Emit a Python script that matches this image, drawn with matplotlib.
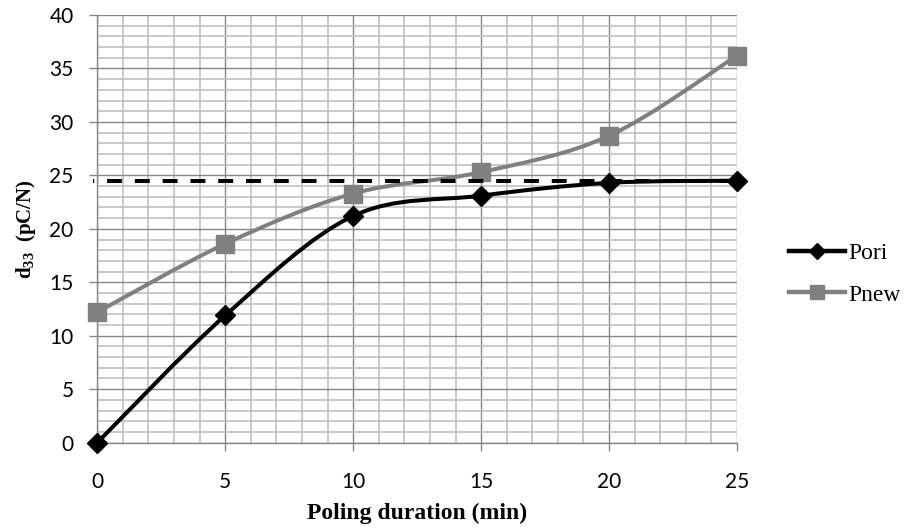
import matplotlib
matplotlib.use('Agg')
import matplotlib.pyplot as plt
import numpy as np
from matplotlib.path import Path
from matplotlib.patches import PathPatch
from matplotlib.lines import Line2D
from matplotlib.ticker import MultipleLocator

# data
duration = [0, 5, 10, 15, 20, 25]
d33_pori = [0.0, 11.9, 21.2, 23.1, 24.3, 24.5]
d33_pnew = [12.2, 18.6, 23.3, 25.3, 28.7, 36.2]
saturation = 24.5

plt.rcParams['font.family'] = ['Lato', 'DejaVu Sans']
plt.rcParams['mathtext.fontset'] = 'custom'
plt.rcParams['mathtext.rm'] = 'Liberation Serif'
plt.rcParams['mathtext.bf'] = 'Liberation Serif:bold'


def smooth_path(x, y):
    # Excel style smoothed line: cubic bezier through every point
    pts = np.column_stack([x, y]).astype(float)
    ext = np.vstack([pts[0], pts, pts[-1]])
    verts = [pts[0]]
    codes = [Path.MOVETO]
    for i in range(len(pts) - 1):
        p0, p1, p2, p3 = ext[i], ext[i + 1], ext[i + 2], ext[i + 3]
        c1 = p1 + (p2 - p0) / 6.0
        c2 = p2 - (p3 - p1) / 6.0
        verts += [c1, c2, p2]
        codes += [Path.CURVE4] * 3
    return Path(verts, codes)


fig = plt.figure(figsize=(9.07, 5.32), dpi=100)
ax = fig.add_axes([0.1073, 0.168, 0.7053, 0.8038])

grey = '#808080'
major_col = '#868686'
minor_col = '#c0c0c0'

ax.set_xlim(0, 25)
ax.set_ylim(0, 40)
ax.xaxis.set_major_locator(MultipleLocator(5))
ax.yaxis.set_major_locator(MultipleLocator(5))
ax.xaxis.set_minor_locator(MultipleLocator(1))
ax.yaxis.set_minor_locator(MultipleLocator(1))
ax.grid(which='minor', color=minor_col, lw=1.2, zorder=0)
ax.grid(which='major', color=major_col, lw=1.0, zorder=0.5)
ax.set_axisbelow(True)
for s in ['top', 'right']:
    ax.spines[s].set_visible(False)
for s in ['left', 'bottom']:
    ax.spines[s].set_color(major_col)
    ax.spines[s].set_linewidth(1.0)
ax.tick_params(which='major', length=6, width=1.0, color=major_col,
               labelsize=15)
ax.tick_params(axis='x', pad=15)
ax.tick_params(axis='y', pad=11)
ax.tick_params(which='minor', length=0)

# Pnew curve + markers
ax.add_patch(PathPatch(smooth_path(duration, d33_pnew), fill=False,
                       edgecolor=grey, lw=2.9, zorder=3, capstyle='round'))
ax.plot(duration, d33_pnew, ls='none', marker='s', ms=13, color=grey,
        mec=grey, zorder=4, clip_on=False)

# saturation level
ax.plot([-0.15, 25], [saturation, saturation], color='black', lw=2.9,
        ls=(3.4, (3.7, 3.2)), zorder=5, clip_on=False)

# Pori curve + markers
ax.add_patch(PathPatch(smooth_path(duration, d33_pori), fill=False,
                       edgecolor='black', lw=2.9, zorder=6, capstyle='round'))
ax.plot(duration, d33_pori, ls='none', marker='D', ms=10, color='black',
        zorder=7, clip_on=False)

ax.set_xlabel('Poling duration (min)', fontfamily='Liberation Serif',
              fontweight='bold', fontsize=17, labelpad=8)
ax.set_ylabel(r'$\mathbf{d_{33}}$  (pC/N)', fontfamily='Liberation Serif',
              fontweight='bold', fontsize=15, labelpad=8)

handles = [Line2D([], [], color='black', lw=3.2, marker='D', ms=8),
           Line2D([], [], color=grey, lw=3.2, marker='s', ms=10)]
fig.legend(handles, ['Pori', 'Pnew'], loc='center left',
           bbox_to_anchor=(768 / 907, 1 - 274 / 532), frameon=False,
           prop={'family': 'Liberation Serif', 'size': 17},
           handlelength=2.35, handletextpad=0.15, labelspacing=0.85)

fig.savefig('out.png', dpi=100)
